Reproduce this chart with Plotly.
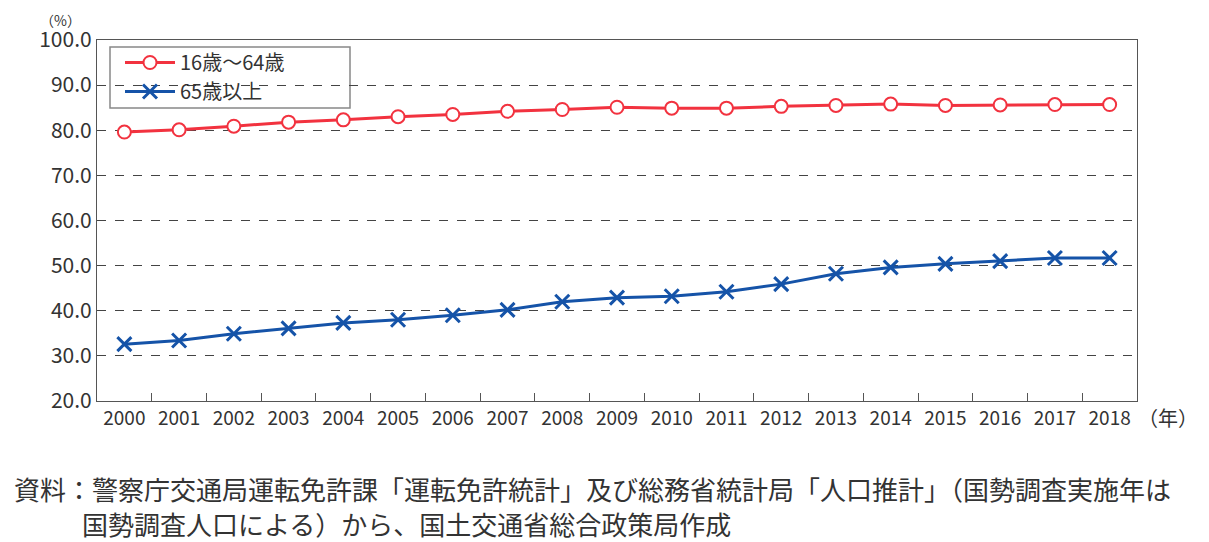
import plotly.graph_objects as go

years = [str(y) for y in range(2000, 2019)]
age16_64 = [79.6, 80.1, 80.9, 81.8, 82.3, 83.0, 83.5, 84.2, 84.6, 85.1, 84.9, 84.9, 85.3, 85.5, 85.8, 85.5, 85.6, 85.7, 85.7]
age65 = [32.6, 33.4, 34.9, 36.1, 37.3, 38.0, 39.0, 40.2, 42.0, 42.9, 43.2, 44.2, 45.9, 48.2, 49.6, 50.4, 51.0, 51.7, 51.7]
yticks = [20, 30, 40, 50, 60, 70, 80, 90, 100]

FONT = "Noto Sans CJK JP"
TXT = "#333333"
# page offset (default body margin) in the photographed window
OX, OY = 8, 8
W, H = 1209 - OX, 542 - OY
# plot area in window pixels: x 97..1137, y 40..401
L, R, T, B = 97 - OX, 1209 - 1137, 40 - OY, 542 - 401
PW, PH = W - L - R, H - T - B


def px(xp):
    return (xp - OX - L) / PW


def py(yp):
    return (H - B - (yp - OY)) / PH


fig = go.Figure()
fig.add_trace(go.Scatter(
    x=years, y=age16_64, name="16歳～64歳", mode="lines+markers",
    line=dict(color="#f2323f", width=3),
    marker=dict(symbol="circle", size=13, color="white", line=dict(color="#f2323f", width=2)),
))
fig.add_trace(go.Scatter(
    x=years, y=age65, name="65歳以上", mode="lines+markers",
    line=dict(color="#1553a8", width=3),
    marker=dict(symbol="x-thin", size=14, color="#1553a8", line=dict(color="#1553a8", width=3)),
))

fig.update_layout(
    width=W, height=H,
    margin=dict(l=L, r=R, t=T, b=B, autoexpand=False),
    paper_bgcolor="white", plot_bgcolor="white",
    font=dict(family=FONT, color=TXT),
    showlegend=True,
    legend=dict(
        x=px(120), y=py(43), xanchor="left", yanchor="top",
        bgcolor="rgba(0,0,0,0)", borderwidth=0,
        font=dict(size=20, color=TXT, family=FONT),
        tracegroupgap=0, itemwidth=50,
    ),
    xaxis=dict(
        type="category", range=[-0.5, 18.5], automargin=False,
        tickson="boundaries", ticks="inside", ticklen=8, tickcolor="#555555",
        showline=True, linecolor="#555555", linewidth=1.2, mirror=True,
        showgrid=False, tickfont=dict(size=19, color=TXT, family=FONT),
    ),
    yaxis=dict(
        range=[20, 100], tickvals=yticks, tickformat=".1f", automargin=False,
        showline=True, linecolor="#555555", linewidth=1.2, mirror=True,
        showgrid=True, gridcolor="#444444", griddash="dash", gridwidth=1,
        zeroline=False, ticks="", tickfont=dict(size=21, color=TXT, family=FONT),
    ),
)

# legend frame
fig.add_shape(type="rect", xref="paper", yref="paper",
              x0=px(110), x1=px(350), y0=py(108), y1=py(47),
              line=dict(color="#888888", width=1.5), fillcolor="white", layer="below")

fig.add_annotation(text="（%）", xref="paper", yref="paper", x=px(60), y=py(8),
                   showarrow=False, xanchor="center", yanchor="top",
                   font=dict(size=14, color=TXT, family=FONT))
fig.add_annotation(text="（年）", xref="paper", yref="paper", x=px(1136), y=py(417),
                   showarrow=False, xanchor="left", yanchor="middle",
                   font=dict(size=20, color=TXT, family=FONT))
fig.add_annotation(text="資料：警察庁交通局運転免許課「運転免許統計」及び総務省統計局「人口推計」（国勢調査実施年は",
                   xref="paper", yref="paper", x=px(12), y=py(489),
                   showarrow=False, xanchor="left", yanchor="middle",
                   font=dict(size=26, color=TXT, family=FONT))
fig.add_annotation(text="国勢調査人口による）から、国土交通省総合政策局作成",
                   xref="paper", yref="paper", x=px(80), y=py(523),
                   showarrow=False, xanchor="left", yanchor="middle",
                   font=dict(size=26, color=TXT, family=FONT))

fig.write_html("out.html")
